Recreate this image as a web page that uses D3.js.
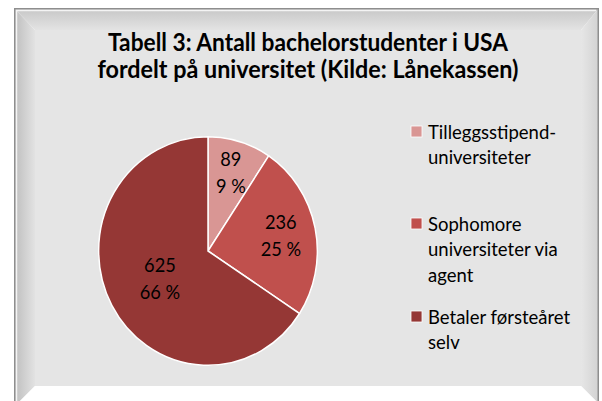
<!DOCTYPE html>
<html>
<head>
<meta charset="utf-8">
<script src="https://cdn.jsdelivr.net/npm/d3@7"></script>
<style>
  body { margin: 0; background: #fff; }
  svg { display: block; }
  text { font-family: Lato, "Open Sans", sans-serif; }
</style>
</head>
<body>
<svg id="chart" width="602" height="401"></svg>
<script>
// data
const categories = [
  ["Tilleggsstipend-", "universiteter"],
  ["Sophomore", "universiteter via", "agent"],
  ["Betaler førsteåret", "selv"]
];
const values = [89, 236, 625];
const titleLines = [
  "Tabell 3: Antall bachelorstudenter i USA",
  "fordelt på universitet (Kilde: Lånekassen)"
];

const colors = ["#d99694", "#c0504d", "#953735"];

const W = 602, H = 401;
const svg = d3.select("#chart");

// bevelled frame
const outer = { x0: 14, y0: 8, x1: 599, y1: 430 };
const inner = { x0: 35, y0: 30, x1: 581, y1: 386 };

const defs = svg.append("defs");
function grad(id, x1, y1, x2, y2, stops) {
  const g = defs.append("linearGradient").attr("id", id)
    .attr("x1", x1).attr("y1", y1).attr("x2", x2).attr("y2", y2);
  stops.forEach(s => g.append("stop").attr("offset", s[0]).attr("stop-color", s[1]));
}
grad("gTop", 0, 0, 0, 1, [[0, "#c6c6c6"], [1, "#e3e3e3"]]);
grad("gLeft", 0, 0, 1, 0, [[0, "#bdbdbd"], [1, "#e2e2e2"]]);
grad("gRight", 0, 0, 1, 0, [[0, "#e6e6e6"], [1, "#d2d2d2"]]);

const poly = pts => pts.map(p => p.join(",")).join(" ");

svg.append("polygon")
  .attr("points", poly([[outer.x0, outer.y0], [outer.x1, outer.y0], [inner.x1, inner.y0], [inner.x0, inner.y0]]))
  .attr("fill", "url(#gTop)");
svg.append("polygon")
  .attr("points", poly([[outer.x0, outer.y0], [inner.x0, inner.y0], [inner.x0, inner.y1], [outer.x0, inner.y1 + 21]]))
  .attr("fill", "url(#gLeft)");
svg.append("polygon")
  .attr("points", poly([[outer.x1, outer.y0], [inner.x1, inner.y0], [inner.x1, inner.y1], [outer.x1, inner.y1 + 18]]))
  .attr("fill", "url(#gRight)");
svg.append("polygon")
  .attr("points", poly([[outer.x0, inner.y1 + 21], [inner.x0, inner.y1], [inner.x1, inner.y1], [outer.x1, inner.y1 + 18], [outer.x1, H], [outer.x0, H]]))
  .attr("fill", "#ffffff");

svg.append("rect")
  .attr("x", inner.x0).attr("y", inner.y0)
  .attr("width", inner.x1 - inner.x0).attr("height", inner.y1 - inner.y0)
  .attr("fill", "#e5e5e5");

// outer edge lines
svg.append("path")
  .attr("d", `M${outer.x0 + 0.75},${H} V${outer.y0 + 0.75} H${outer.x1 - 0.75} V${H}`)
  .attr("fill", "none").attr("stroke", "#8e8e8e").attr("stroke-width", 1.5);
svg.append("path")
  .attr("d", `M${outer.x0 + 2.5},${H} V${outer.y0 + 2.5} H${outer.x1 - 3}`)
  .attr("fill", "none").attr("stroke", "#f4f4f4").attr("stroke-width", 1.5);

// title
const cx = (inner.x0 + inner.x1) / 2;
const titleWidths = [400, 421];
svg.selectAll("text.title")
  .data(titleLines)
  .join("text")
  .attr("class", "title")
  .attr("x", cx)
  .attr("y", (d, i) => 51 + i * 27)
  .attr("text-anchor", "middle")
  .attr("font-size", 24)
  .attr("font-weight", "bold")
  .attr("fill", "#000")
  .attr("textLength", (d, i) => titleWidths[i])
  .attr("lengthAdjust", "spacingAndGlyphs")
  .text(d => d);

// pie
const r = 111;
const center = [208, 251];
const pie = d3.pie().sort(null).value(d => d)(values);
const arc = d3.arc().innerRadius(0).outerRadius(r);
const total = d3.sum(values);

const g = svg.append("g")
  .attr("transform", `translate(${center[0]},${center[1]}) scale(0.985,1.03)`);

g.selectAll("path.slice")
  .data(pie)
  .join("path")
  .attr("class", "slice")
  .attr("d", arc)
  .attr("fill", (d, i) => colors[i])
  .attr("stroke", "#fff")
  .attr("stroke-width", 1.5);

// data labels
const labelR = [0.72, 0.68, 0.5];
const lab = g.selectAll("g.lab")
  .data(pie)
  .join("g")
  .attr("class", "lab")
  .attr("transform", (d, i) => {
    const a = (d.startAngle + d.endAngle) / 2;
    const rr = r * labelR[i];
    return `translate(${Math.sin(a) * rr},${-Math.cos(a) * rr})`;
  });
lab.append("text")
  .attr("text-anchor", "middle")
  .attr("y", -6)
  .attr("font-size", 18.5)
  .attr("fill", "#000")
  .text(d => d.value);
lab.append("text")
  .attr("text-anchor", "middle")
  .attr("y", 20)
  .attr("font-size", 18.5)
  .attr("fill", "#000")
  .text(d => Math.round(d.value / total * 100) + " %");

// legend
const legendY = [132, 224, 317];
const leg = svg.selectAll("g.leg")
  .data(categories)
  .join("g")
  .attr("class", "leg")
  .attr("transform", (d, i) => `translate(411,${legendY[i]})`);
leg.append("rect")
  .attr("x", 0).attr("y", -6)
  .attr("width", 11).attr("height", 11)
  .attr("fill", (d, i) => colors[i])
  .attr("stroke", "#fff").attr("stroke-width", 0.8);
leg.each(function(lines) {
  d3.select(this).selectAll("text")
    .data(lines)
    .join("text")
    .attr("x", 17)
    .attr("y", (d, j) => 6.5 + j * 25.5)
    .attr("font-size", 18.5)
    .attr("fill", "#000")
    .text(d => d);
});
</script>
</body>
</html>
